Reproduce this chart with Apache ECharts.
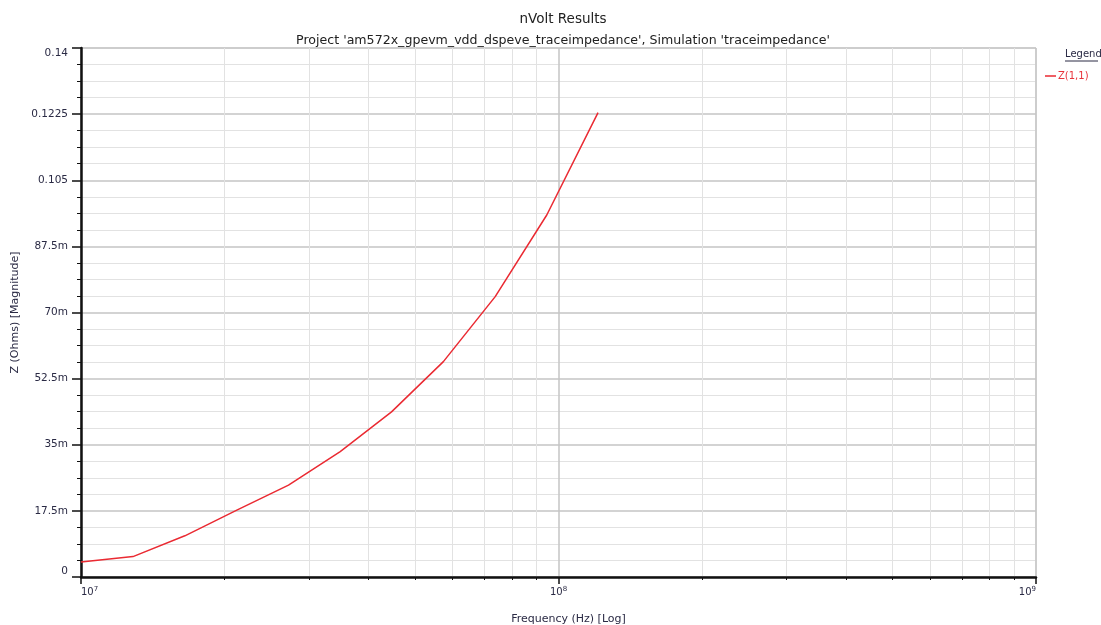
<!DOCTYPE html>
<html>
<head>
<meta charset="utf-8">
<script src="https://cdn.jsdelivr.net/npm/echarts@6/dist/echarts.min.js"></script>
<style>html,body{margin:0;padding:0;background:#fff;}#c{width:1101px;height:625px;}</style>
</head>
<body>
<div id="c"></div>
<script>
// Frequencies (Hz)
const freqs = [1.0e7, 1.285e7, 1.65e7, 2.12e7, 2.72e7, 3.49e7, 4.47e7, 5.74e7, 7.37e7, 9.45e7, 1.21e8];
// |Z| (Ohms)
const zMag = [0.0040, 0.0054, 0.0109, 0.0177, 0.0243, 0.0332, 0.0437, 0.0570, 0.0742, 0.0958, 0.1229];
const seriesName = 'Z(1,1)';
const yTickLabels = ['0', '17.5m', '35m', '52.5m', '70m', '87.5m', '0.105', '0.1225', '0.14'];
const xTickExponents = ['7', '8', '9'];

const FONT = 'DejaVu Sans';
const TXT = '#2a2a44';
const chart = echarts.init(document.getElementById('c'));
chart.setOption({
  animation: false,
  backgroundColor: '#fff',
  textStyle: { fontFamily: FONT },
  title: [
    { text: 'nVolt Results', left: 558, top: 7, textAlign: 'center',
      textStyle: { fontFamily: FONT, fontSize: 13.5, fontWeight: 'normal', color: '#222' } },
    { text: "Project 'am572x_gpevm_vdd_dspeve_traceimpedance', Simulation 'traceimpedance'", left: 558, top: 29, textAlign: 'center',
      textStyle: { fontFamily: FONT, fontSize: 12.6, fontWeight: 'normal', color: '#222' } }
  ],
  legend: {
    left: 1040, top: 66, orient: 'vertical', icon: 'rect', itemWidth: 11, itemHeight: 1.5, itemGap: 4,
    textStyle: { color: '#e8323a', fontSize: 10, fontFamily: FONT, padding: [0, 0, 0, -3] },
    data: [seriesName]
  },
  graphic: [
    { type: 'text', left: 1065, top: 49, style: { text: 'Legend', fill: TXT, font: '10px "DejaVu Sans"' } },
    { type: 'line', shape: { x1: 1065, y1: 61, x2: 1098, y2: 61 }, style: { stroke: TXT, lineWidth: 1 } }
  ],
  grid: { left: 81, right: 65, top: 48, bottom: 48, outerBoundsMode: 'none', containLabel: false,
    show: true, borderColor: '#cfcfcf', borderWidth: 1 },
  xAxis: {
    type: 'log', logBase: 10, min: 1e7, max: 1e9,
    name: 'Frequency (Hz) [Log]', nameLocation: 'middle', nameGap: 37,
    nameTextStyle: { color: TXT, fontSize: 11, fontFamily: FONT, padding: [0, 0, 0, 20] },
    axisLine: { lineStyle: { color: '#111', width: 2.5 } },
    axisTick: { length: 7, lineStyle: { color: '#111', width: 1.5 } },
    minorTick: { show: true, splitNumber: 9, length: 3, lineStyle: { color: '#111' } },
    splitLine: { show: true, lineStyle: { color: '#c4c4c4', width: 1.5 } },
    minorSplitLine: { show: true, lineStyle: { color: '#e2e2e2', width: 1 } },
    axisLabel: {
      margin: 9, color: TXT, alignMinLabel: 'left', alignMaxLabel: 'right',
      formatter: function (v) {
        const e = Math.round(Math.log10(v));
        const lab = xTickExponents[e - 7];
        return lab === undefined ? '' : '{b|10}{s|' + lab + '}';
      },
      rich: {
        b: { fontSize: 10, color: TXT, fontFamily: FONT },
        s: { fontSize: 7, color: TXT, fontFamily: FONT, verticalAlign: 'top', padding: [0, 0, 6, 0] }
      }
    }
  },
  yAxis: {
    type: 'value', min: 0, max: 0.14, interval: 0.0175,
    name: 'Z (Ohms) [Magnitude]', nameLocation: 'middle', nameGap: 55, nameRotate: 90,
    nameTextStyle: { color: TXT, fontSize: 11, fontFamily: FONT },
    axisLine: { show: true, lineStyle: { color: '#111', width: 2.5 } },
    axisTick: { show: true, length: 9, lineStyle: { color: '#111', width: 1.5 } },
    minorTick: { show: true, splitNumber: 4, length: 4, lineStyle: { color: '#111' } },
    splitLine: { show: true, lineStyle: { color: '#c4c4c4', width: 1.5 } },
    minorSplitLine: { show: true, lineStyle: { color: '#e2e2e2', width: 1 } },
    axisLabel: {
      color: TXT, fontSize: 10.5, margin: 13,
      verticalAlignMinLabel: 'bottom', verticalAlignMaxLabel: 'top',
      formatter: function (v) { const i = Math.round(v / 0.0175); return yTickLabels[i] || ''; }
    }
  },
  series: [{
    name: seriesName, type: 'line', showSymbol: false,
    lineStyle: { color: '#ea2a32', width: 1.5 }, itemStyle: { color: '#ea2a32' },
    data: freqs.map((f, i) => [f, zMag[i]])
  }]
});
</script>
</body>
</html>
